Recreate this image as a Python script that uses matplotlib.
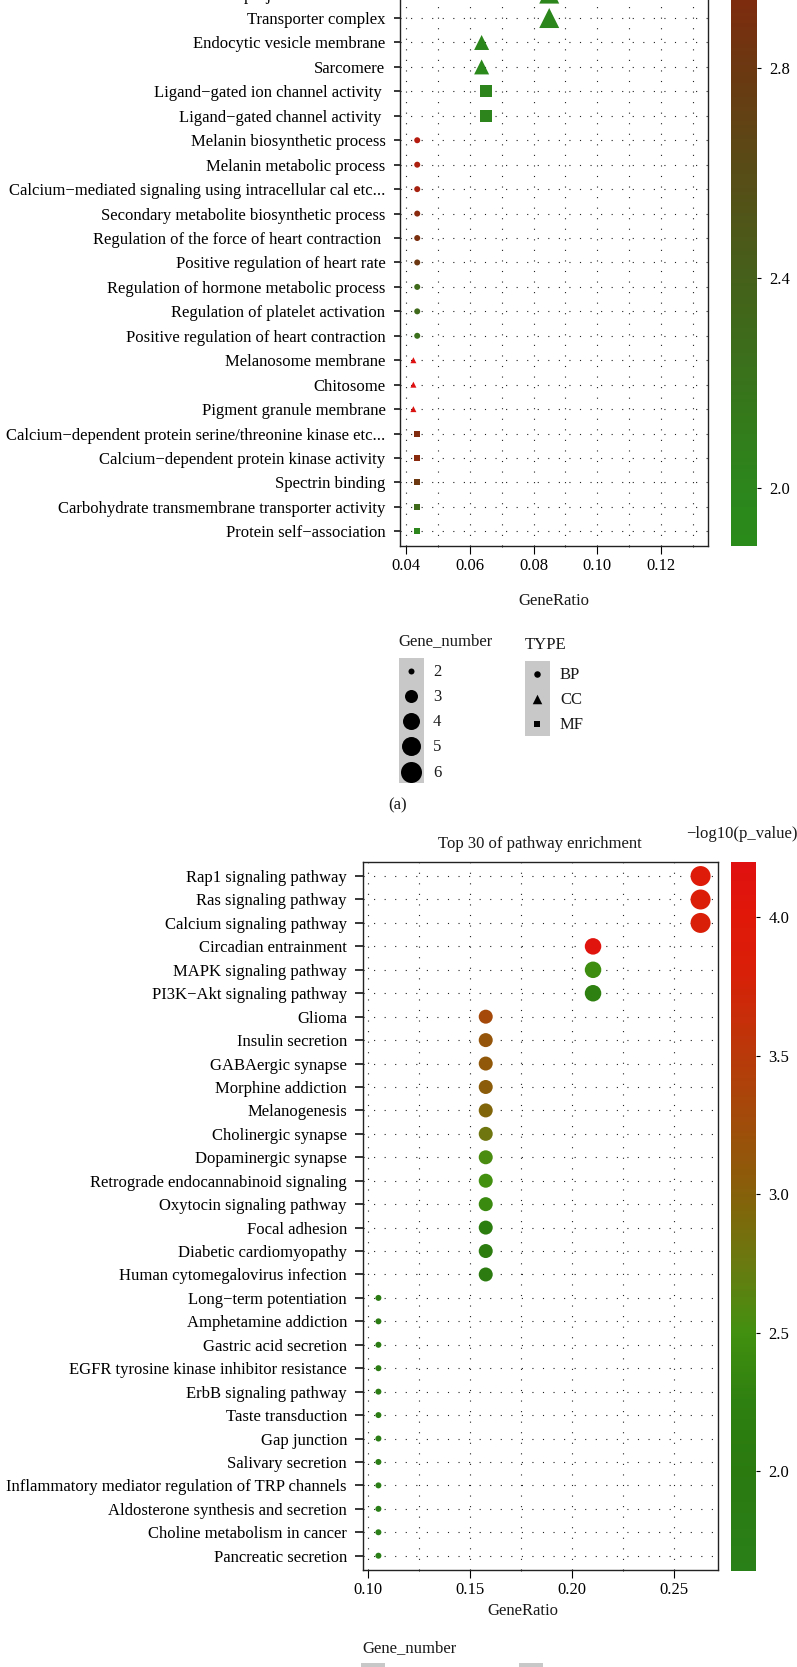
import numpy as np
import matplotlib
matplotlib.use('Agg')
import matplotlib.pyplot as plt
from matplotlib.cm import ScalarMappable
from matplotlib.colors import LinearSegmentedColormap, Normalize
from matplotlib.patches import Rectangle
from matplotlib.ticker import MultipleLocator

W, H = 797, 1667
FS = 12

# panel (a)
terms_a = ['Neuron projection membrane', 'Transporter complex', 'Endocytic vesicle membrane', 'Sarcomere',
           'Ligand−gated ion channel activity ', 'Ligand−gated channel activity ',
           'Melanin biosynthetic process', 'Melanin metabolic process',
           'Calcium−mediated signaling using intracellular cal etc...',
           'Secondary metabolite biosynthetic process', 'Regulation of the force of heart contraction ',
           'Positive regulation of heart rate', 'Regulation of hormone metabolic process',
           'Regulation of platelet activation', 'Positive regulation of heart contraction',
           'Melanosome membrane', 'Chitosome', 'Pigment granule membrane',
           'Calcium−dependent protein serine/threonine kinase etc...',
           'Calcium−dependent protein kinase activity', 'Spectrin binding',
           'Carbohydrate transmembrane transporter activity', 'Protein self−association']
ratio_a = [0.0849, 0.0849, 0.0637, 0.0637, 0.0652, 0.0652, 0.0435, 0.0435, 0.0435, 0.0435, 0.0435, 0.0435,
           0.0435, 0.0435, 0.0435, 0.0423, 0.0423, 0.0423, 0.0435, 0.0435, 0.0435, 0.0435, 0.0435]
genes_a = [4, 4, 3, 3, 3, 3, 2, 2, 2, 2, 2, 2, 2, 2, 2, 2, 2, 2, 2, 2, 2, 2, 2]
type_a = ['CC', 'CC', 'CC', 'CC', 'MF', 'MF', 'BP', 'BP', 'BP', 'BP', 'BP', 'BP', 'BP', 'BP', 'BP',
          'CC', 'CC', 'CC', 'MF', 'MF', 'MF', 'MF', 'MF']
logp_a = [2.0, 1.97, 1.97, 1.95, 2.02, 2.02, 3.3, 3.25, 3.2, 3.0, 2.9, 2.8, 2.3, 2.3, 2.25,
          3.6, 3.6, 3.55, 2.95, 3.0, 2.8, 2.3, 2.0]
cbar_ticks_a = [2.0, 2.4, 2.8]

# panel (b)
terms_b = ['Rap1 signaling pathway', 'Ras signaling pathway', 'Calcium signaling pathway', 'Circadian entrainment',
           'MAPK signaling pathway', 'PI3K−Akt signaling pathway', 'Glioma', 'Insulin secretion', 'GABAergic synapse',
           'Morphine addiction', 'Melanogenesis', 'Cholinergic synapse', 'Dopaminergic synapse',
           'Retrograde endocannabinoid signaling', 'Oxytocin signaling pathway', 'Focal adhesion',
           'Diabetic cardiomyopathy', 'Human cytomegalovirus infection', 'Long−term potentiation',
           'Amphetamine addiction', 'Gastric acid secretion', 'EGFR tyrosine kinase inhibitor resistance',
           'ErbB signaling pathway', 'Taste transduction', 'Gap junction', 'Salivary secretion',
           'Inflammatory mediator regulation of TRP channels', 'Aldosterone synthesis and secretion',
           'Choline metabolism in cancer', 'Pancreatic secretion']
ratio_b = [0.2632, 0.2632, 0.2632, 0.2105, 0.2105, 0.2105] + [0.1579] * 12 + [0.1053] * 12
genes_b = [5, 5, 5, 4, 4, 4] + [3] * 12 + [2] * 12
logp_b = [3.95, 3.85, 3.82, 4.12, 2.45, 2.25, 3.3, 3.15, 3.1, 3.05, 2.95, 2.8, 2.55, 2.5, 2.42, 2.15, 2.1, 2.05,
          1.95, 1.92, 1.9, 1.88, 1.85, 1.85, 1.82, 1.8, 1.78, 1.75, 1.72, 1.7]
cbar_ticks_b = [2.0, 2.5, 3.0, 3.5, 4.0]

legend_genes = [2, 3, 4, 5, 6]
legend_types = ['BP', 'CC', 'MF']

size_px_a = {2: 6, 3: 15, 4: 20}
size_px_b = {2: 6, 3: 14, 4: 16.5, 5: 20}
legend_px = {2: 6, 3: 13, 4: 17, 5: 19, 6: 21}
marker_of = {'BP': 'o', 'CC': '^', 'MF': 's'}
shape_scale = {'BP': 1.0, 'CC': 1.0, 'MF': 0.8}
legend_shape_px = {'BP': 6.5, 'CC': 9.5, 'MF': 6}

cmap_a = LinearSegmentedColormap.from_list('a', [
    (0.0, '#2a8a1a'), ((2.0 - 1.89) / 1.71, '#2c861c'), ((2.4 - 1.89) / 1.71, '#45601a'),
    ((2.8 - 1.89) / 1.71, '#6b3812'), ((2.93 - 1.89) / 1.71, '#7e2c0e'), (1.0, '#e01010')])
norm_a = Normalize(1.89, 3.6)
cmap_b = LinearSegmentedColormap.from_list('b', [
    (0.0, '#2a8018'), ((2.0 - 1.64) / 2.56, '#2a7a10'), ((2.25 - 1.64) / 2.56, '#2e8010'),
    ((2.5 - 1.64) / 2.56, '#429010'), ((2.75 - 1.64) / 2.56, '#6a7a10'), ((3.0 - 1.64) / 2.56, '#86600a'),
    ((3.5 - 1.64) / 2.56, '#b83a0a'), ((3.8 - 1.64) / 2.56, '#d82008'), ((4.0 - 1.64) / 2.56, '#e01808'),
    (1.0, '#e01010')])
norm_b = Normalize(1.64, 4.2)

plt.rcParams['font.family'] = 'Liberation Serif'
plt.rcParams['font.size'] = FS
plt.rcParams['text.color'] = '#1a1a1a'

fig = plt.figure(figsize=(W / 100, H / 100), dpi=100)


def axes_px(left, top, right, bottom):
    return fig.add_axes([left / W, 1 - bottom / H, (right - left) / W, (bottom - top) / H])


def px2s(d):
    return (d * 0.72) ** 2


def style_axes(ax, terms, major, minor, ticklen, label_pad, xpad):
    ax.set_yticks(range(len(terms)))
    ax.set_yticklabels(terms)
    ax.xaxis.set_major_locator(MultipleLocator(major))
    ax.xaxis.set_minor_locator(MultipleLocator(minor))
    ax.xaxis.set_major_formatter(lambda v, p: f'{v:.2f}')
    ax.grid(True, which='major', color='#222222', lw=0.8, ls=(0, (1, 8.5)))
    ax.grid(True, which='minor', axis='x', color='#222222', lw=0.8, ls=(0, (1, 8.5)))
    ax.set_axisbelow(True)
    ax.tick_params(axis='y', length=ticklen, width=1.1, pad=label_pad, labelsize=FS)
    ax.tick_params(axis='x', which='major', length=5.5, width=0.8, pad=xpad, labelsize=FS)
    ax.tick_params(axis='x', which='minor', length=1, width=0.6)
    for s in ax.spines.values():
        s.set_linewidth(1.0)
        s.set_color('#222222')


def add_cbar(left, top, right, bottom, cmap, norm, ticks):
    cax = axes_px(left, top, right, bottom)
    cb = fig.colorbar(ScalarMappable(norm=norm, cmap=cmap), cax=cax)
    cb.set_ticks(ticks)
    cb.set_ticklabels([f'{t:.1f}' for t in ticks])
    cb.outline.set_visible(False)
    cax.tick_params(length=3, width=0.8, pad=6, labelsize=FS)
    return cax


# panel (a), its top runs past the top edge of the picture
ax_a = axes_px(400, -20, 708, 546)
for t in marker_of:
    idx = [i for i, v in enumerate(type_a) if v == t]
    ax_a.scatter([ratio_a[i] for i in idx], idx, marker=marker_of[t], linewidths=0,
                 s=[px2s(size_px_a[genes_a[i]] * (shape_scale[t] if genes_a[i] > 2 else 1)) for i in idx],
                 c=[logp_a[i] for i in idx], cmap=cmap_a, norm=norm_a, zorder=3)
ax_a.set_xlim(0.0381, 0.1347)
ax_a.set_ylim(22.6, -0.556)
style_axes(ax_a, terms_a, 0.02, 0.01, 4.5, 6, 3)

# 2.93 is the value at the picture's top edge, the bar carries on above it
cax_a = axes_px(731, -20, 757, 546)
cb_a = fig.colorbar(ScalarMappable(norm=norm_a, cmap=cmap_a), cax=cax_a)
cb_a.set_ticks(cbar_ticks_a)
cb_a.set_ticklabels([f'{t:.1f}' for t in cbar_ticks_a])
cb_a.outline.set_visible(False)
cax_a.set_ylim(1.89, 2.8 + 88 / 526)
cax_a.tick_params(length=3, width=0.8, pad=6, labelsize=FS)

# panel (b)
ax_b = axes_px(362.5, 862, 717.7, 1570)
ax_b.scatter(ratio_b, range(len(terms_b)), s=[px2s(size_px_b[g]) for g in genes_b], linewidths=0,
             c=logp_b, cmap=cmap_b, norm=norm_b, zorder=3)
ax_b.set_xlim(0.0975, 0.2716)
ax_b.set_ylim(29.61, -0.6)
style_axes(ax_b, terms_b, 0.05, 0.025, 6, 5.2, 3)
add_cbar(730.5, 862, 756, 1571, cmap_b, norm_b, cbar_ticks_b)

# overlay in picture pixels for the titles and the size and shape keys
ov = fig.add_axes([0, 0, 1, 1], zorder=10)
ov.set_xlim(0, W)
ov.set_ylim(H, 0)
ov.axis('off')

ov.text(554, 601, 'GeneRatio', ha='center', va='center')
ov.text(522.5, 1611, 'GeneRatio', ha='center', va='center')
ov.text(398, 641, 'Gene_number', ha='left', va='center')
ov.text(525, 645, 'TYPE', ha='left', va='center')
ov.text(397.5, 805.5, '(a)', ha='center', va='center')
ov.text(540, 844, 'Top 30 of pathway enrichment', ha='center', va='center')
ov.text(742, 834, '−log10(p_value)', ha='center', va='center')
ov.text(362, 1648, 'Gene_number', ha='left', va='center')

ov.add_patch(Rectangle((398.6, 657.7), 25, 125.3, fc='#c8c8c8', ec='none'))
for i, g in enumerate(legend_genes):
    y = 670.7 + 25.2 * i
    ov.scatter([411], [y], s=px2s(legend_px[g]), c='black', marker='o', linewidths=0)
    ov.text(437, y + 1, str(g), ha='center', va='center')

ov.add_patch(Rectangle((525, 661), 25, 75, fc='#c8c8c8', ec='none'))
for i, t in enumerate(legend_types):
    y = 674 + 25 * i
    ov.scatter([537.5], [y], s=px2s(legend_shape_px[t]), c='black', marker=marker_of[t], linewidths=0)
    ov.text(560, y + 1, t, ha='left', va='center')

ov.add_patch(Rectangle((361.5, 1663), 24, 10, fc='#c8c8c8', ec='none'))
ov.add_patch(Rectangle((518.6, 1663), 24.5, 10, fc='#c8c8c8', ec='none'))

fig.savefig('out.png', dpi=100)
